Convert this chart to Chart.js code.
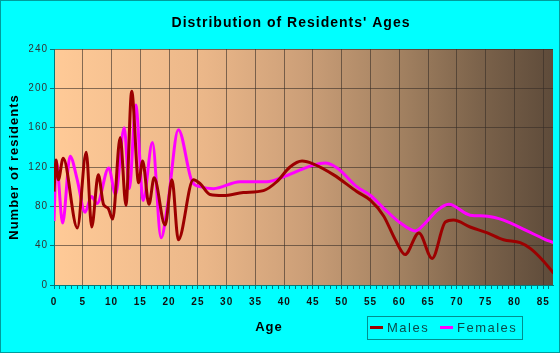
<!DOCTYPE html>
<html>
<head>
<meta charset="utf-8">
<script src="https://cdn.jsdelivr.net/npm/chart.js@4/dist/chart.umd.min.js"></script>
<style>
  html, body { margin: 0; padding: 0; background: #00ffff; }
  #ageChart { display: block; }
</style>
</head>
<body>
<canvas id="ageChart" width="560" height="353"></canvas>
<script>
// values (age in years, number of residents)
const maleAges = [0, 0.35, 0.75, 1.6, 4.05, 5.6, 6.55, 7.7, 8.6, 9.4, 10.2, 11.5, 12.5, 13.5, 14.7, 15.4, 16.5, 17.4, 19.3, 20.5, 21.6, 24.2, 25.4, 27.1, 29.4, 32.9, 36.4, 38.7, 41, 43.1, 45.1, 48.6, 52.6, 55, 57.3, 59.3, 61, 63.4, 65.7, 68, 69.4, 72.3, 75.3, 78.1, 81, 82.8, 85.1, 86.8];
const maleValues = [95, 127, 107, 129, 58, 135, 59, 112, 82, 78, 67, 150, 81, 197, 104, 126, 82, 109, 61, 107, 46, 107, 103, 92, 91, 94, 96, 105, 120, 126, 123, 112, 95, 86, 70, 46, 31, 53, 27, 64, 66, 59, 53, 46, 43, 37, 24, 12];
const femaleAges = [0, 0.4, 1.5, 2.8, 4.0, 5.4, 6.5, 7.5, 9.5, 10.7, 12.2, 13.1, 14.2, 15.5, 17.1, 18.6, 19.8, 21.6, 24, 25.4, 27.7, 32.3, 37, 39.9, 42.8, 45.1, 47.1, 49.2, 52.6, 55, 57.3, 60.2, 62.8, 64.5, 66.6, 68.6, 72.3, 75.3, 78.1, 82.2, 85.1, 86.8];
const femaleValues = [65, 126, 63, 131, 108, 74, 90, 83, 119, 92, 160, 98, 183, 86, 145, 48, 84, 158, 105, 100, 98, 105, 105, 110, 117, 122, 124, 119, 100, 91, 78, 63, 55, 63, 76, 82, 71, 70, 66, 55, 47, 43];
const seriesNames = ["Males", "Females"];
const yTicks = [0, 40, 80, 120, 160, 200, 240];

const FONT = "'Liberation Sans', Arial, sans-serif";
const gridColor = "rgba(55, 45, 38, 0.6)";
const axisColor = "#007a7a";

function toPoints(ages, values) {
    return ages.map((a, i) => ({ x: a, y: values[i] }));
}

// cyan page, gradient plot area, frame, "Age" label and boxed legend
const decorPlugin = {
    id: "decor",
    beforeLayout(chart) {
        chart.ctx.letterSpacing = "1px";
    },
    beforeDraw(chart) {
        const ctx = chart.ctx;
        const a = chart.chartArea;
        ctx.save();
        ctx.fillStyle = "#00ffff";
        ctx.fillRect(0, 0, chart.width, chart.height);
        const g = ctx.createLinearGradient(a.left, 0, a.right, 0);
        g.addColorStop(0, "#ffca97");
        g.addColorStop(0.3, "#ebb789");
        g.addColorStop(0.5, "#cc9f78");
        g.addColorStop(0.7, "#a18060");
        g.addColorStop(0.85, "#7c634b");
        g.addColorStop(1, "#5e4b3a");
        ctx.fillStyle = g;
        ctx.fillRect(a.left, a.top, a.right - a.left, a.bottom - a.top);
        ctx.restore();
        ctx.letterSpacing = "1px";
    },
    afterDraw(chart) {
        const ctx = chart.ctx;
        ctx.save();
        // outer frame
        ctx.strokeStyle = "#009c9c";
        ctx.lineWidth = 1;
        ctx.strokeRect(0.5, 0.5, chart.width - 1, chart.height - 1);

        // x axis title
        ctx.letterSpacing = "1px";
        ctx.fillStyle = "#000";
        ctx.font = "bold 13px " + FONT;
        ctx.textAlign = "center";
        ctx.textBaseline = "middle";
        ctx.fillText("Age", 269, 327);

        // legend
        ctx.strokeStyle = "#008f8f";
        ctx.strokeRect(367.5, 316.5, 155, 23);
        ctx.letterSpacing = "1.5px";
        ctx.font = "13px " + FONT;
        ctx.textAlign = "left";
        const starts = [370, 440];
        chart.data.datasets.forEach((ds, i) => {
            const x = starts[i];
            ctx.strokeStyle = ds.borderColor;
            ctx.lineWidth = 3;
            ctx.beginPath();
            ctx.moveTo(x, 327.5);
            ctx.lineTo(x + 13, 327.5);
            ctx.stroke();
            ctx.fillStyle = "#0a4b4b";
            ctx.fillText(ds.label, x + 17, 328);
        });
        ctx.restore();
    }
};

let AgeChart = function () {
    let _draw = function () {
        const ctx = document.getElementById("ageChart").getContext("2d");
        new Chart(ctx, {
            type: "line",
            data: {
                datasets: [
                    {
                        label: seriesNames[0],
                        data: toPoints(maleAges, maleValues),
                        borderColor: "#9c0000",
                        borderWidth: 3,
                        pointRadius: 0,
                        cubicInterpolationMode: "monotone",
                        fill: false,
                        order: 0
                    },
                    {
                        label: seriesNames[1],
                        data: toPoints(femaleAges, femaleValues),
                        borderColor: "#ff00ff",
                        borderWidth: 3,
                        pointRadius: 0,
                        cubicInterpolationMode: "monotone",
                        fill: false,
                        order: 1
                    }
                ]
            },
            options: {
                responsive: false,
                animation: false,
                events: [],
                layout: { padding: { left: 29, right: 7, top: 0, bottom: 0 } },
                plugins: {
                    legend: { display: false },
                    tooltip: { enabled: false },
                    title: {
                        display: true,
                        text: "Distribution of Residents' Ages",
                        color: "#000",
                        font: { family: FONT, size: 14, weight: "bold" },
                        padding: { top: 14.6, bottom: 17.6 }
                    }
                },
                scales: {
                    x: {
                        type: "linear",
                        min: 0,
                        max: 86.7,
                        afterFit: (s) => { s.height = 68; },
                        border: { color: axisColor, width: 1 },
                        grid: {
                            color: (c) => (c.tick && c.tick.value % 5 === 0 ? gridColor : "transparent"),
                            tickColor: axisColor,
                            tickLength: 4,
                            drawOnChartArea: true
                        },
                        ticks: {
                            stepSize: 1,
                            includeBounds: false,
                            autoSkip: false,
                            maxRotation: 0,
                            minRotation: 0,
                            padding: 7,
                            color: "#111",
                            font: { family: FONT, size: 10, weight: "bold" },
                            callback: (v) => (v % 5 === 0 ? String(v) : "")
                        }
                    },
                    y: {
                        min: yTicks[0],
                        max: yTicks[yTicks.length - 1],
                        afterFit: (s) => { s.width = 25; },
                        afterBuildTicks: (s) => { s.ticks = yTicks.map((v) => ({ value: v })); },
                        border: { color: axisColor, width: 1 },
                        grid: {
                            color: gridColor,
                            tickColor: axisColor,
                            tickLength: 4
                        },
                        ticks: {
                            padding: 2,
                            color: "#333",
                            font: { family: FONT, size: 10 }
                        },
                        title: {
                            display: true,
                            text: "Number of residents",
                            color: "#000",
                            font: { family: FONT, size: 13, weight: "bold" },
                            padding: { top: -22.8, bottom: 0 }
                        }
                    }
                }
            },
            plugins: [decorPlugin]
        });
    };
    return {
        init: () => {
            _draw();
        }
    };
}();
document.addEventListener("DOMContentLoaded", function () {
    AgeChart.init();
});
</script>
</body>
</html>
